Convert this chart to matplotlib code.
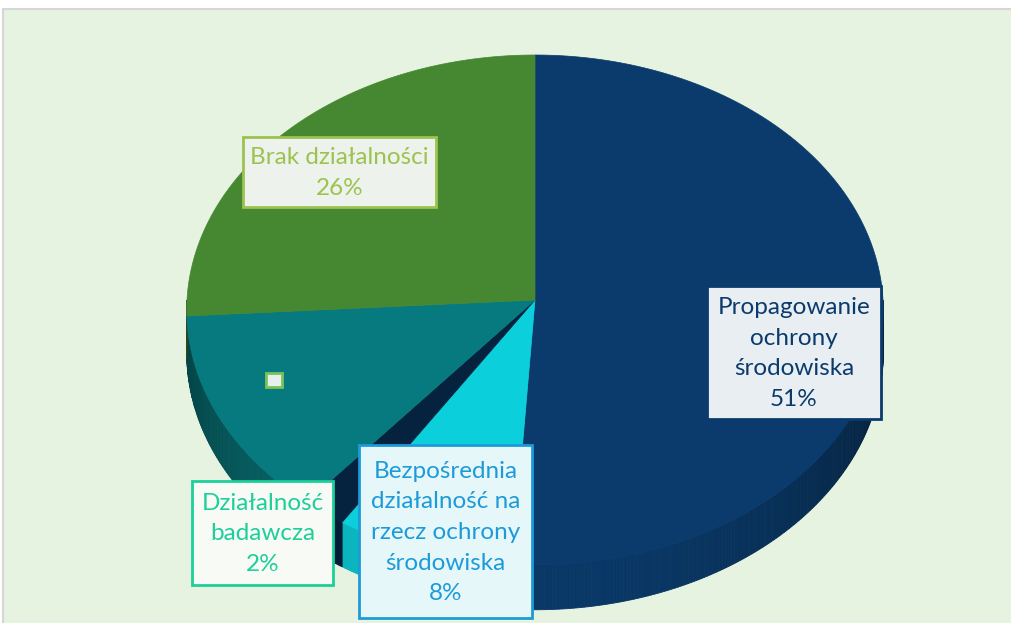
import numpy as np
import matplotlib.pyplot as plt
from matplotlib.patches import Polygon, Rectangle
import matplotlib.colors as mcolors

# data (clockwise from 12 o'clock)
categories = [
    "Propagowanie\nochrony\nśrodowiska",
    "Bezpośrednia\ndziałalność na\nrzecz ochrony\nśrodowiska",
    "Działalność\nbadawcza",
    "",
    "Brak działalności",
]
values = [51, 8, 2, 13, 26]
slice_colors = ["#0a3b6c", "#0bd0db", "#05223f", "#077a7f", "#468731"]
label_text_colors = ["#0a3b6c", "#1d9bd8", "#1ccf9b", "#7dc257", "#9cc24f"]

# layout (pixels)
W, H = 1011, 623
cx, cy = 535, 300
rx = 348
A, k = 254.6, 0.0392
depth = 43
label_boxes = [
    (707, 286, 881, 419),
    (359, 445, 532, 618),
    (192, 481, 333, 585),
    (266, 373, 282, 387),
    (243, 137, 436, 207),
]
label_fills = ["#e8eef2", "#e6f7fa", "#f8faf6", "#e8eff0", "#edf3ec"]

fig = plt.figure(figsize=(W / 100, H / 100), dpi=100)
ax = fig.add_axes([0, 0, 1, 1])
ax.set_xlim(0, W)
ax.set_ylim(H, 0)
ax.axis("off")

# chart area
ax.add_patch(Rectangle((3, 9), W + 10, H + 10, facecolor="#e5f3e0",
                       edgecolor="#d6d6d6", linewidth=1.5))


def proj(phi, dz=0.0):
    u = np.sin(phi)
    v = -np.cos(phi)
    s = 1.0 / (1 - k * v)
    x = cx + rx * u * s
    y = cy + A * v * s + dz * s
    return x, y


def shade(color, f):
    r, g, b = mcolors.to_rgb(color)
    return (r * f, g * f, b * f)


fracs = np.array(values, dtype=float) / sum(values)
edges = np.concatenate([[0], np.cumsum(fracs)]) * 2 * np.pi

# side walls (front half only)
for i, col in enumerate(slice_colors):
    a0 = max(edges[i], np.pi / 2)
    a1 = min(edges[i + 1], 3 * np.pi / 2)
    if a1 <= a0:
        continue
    n = max(int((a1 - a0) / 0.01), 2)
    ph = np.linspace(a0, a1, n + 1)
    for j in range(n):
        p0, p1 = ph[j], ph[j + 1]
        m = 0.5 * (p0 + p1)
        # darker towards the sides, lighter at the front
        f = 0.55 + 0.4 * np.sin(m - np.pi / 2) ** 1.5
        xa, ya = proj(p0)
        xb, yb = proj(p1)
        xc, yc = proj(p1, depth)
        xd, yd = proj(p0, depth)
        ax.add_patch(Polygon([(xa, ya), (xb, yb), (xc, yc), (xd, yd)],
                             closed=True, facecolor=shade(col, f),
                             edgecolor=shade(col, f), linewidth=0.6))

# top faces
for i, col in enumerate(slice_colors):
    ph = np.linspace(edges[i], edges[i + 1], 200)
    xs, ys = proj(ph)
    pts = [(cx, cy)] + list(zip(xs, ys))
    ax.add_patch(Polygon(pts, closed=True, facecolor=col, edgecolor=col,
                         linewidth=0.5))

# labels
for i, name in enumerate(categories):
    x0, y0, x1, y1 = label_boxes[i]
    ax.add_patch(Rectangle((x0, y0), x1 - x0, y1 - y0,
                           facecolor=label_fills[i],
                           edgecolor=label_text_colors[i], linewidth=2,
                           zorder=5))
    if name == "":
        continue
    txt = f"{name}\n{values[i]}%"
    ax.text((x0 + x1) / 2, (y0 + y1) / 2 + 1, txt, ha="center",
            va="center", fontsize=17.5, family="Lato",
            color=label_text_colors[i], linespacing=1.56, zorder=6)

fig.savefig("out.png", dpi=100)
